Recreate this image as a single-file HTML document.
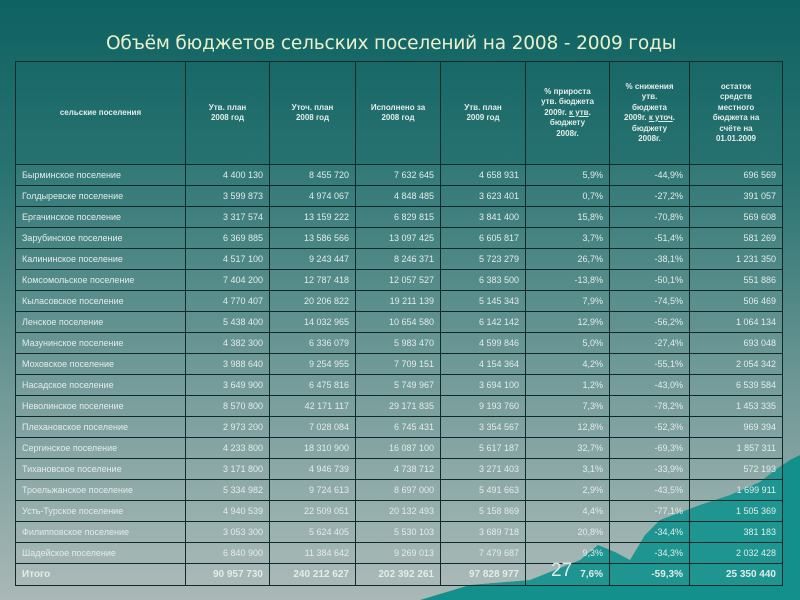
<!DOCTYPE html>
<html><head><meta charset="utf-8"><style>
html,body{margin:0;padding:0}
body{width:800px;height:600px;position:relative;overflow:hidden;background:linear-gradient(180deg,#0e6262 0%,#2a7472 30%,#6f9896 65%,#a9b8b6 100%);font-family:"Liberation Sans","DejaVu Sans",sans-serif}
.title{position:absolute;left:106px;top:33px;font-family:"DejaVu Sans","Liberation Sans",sans-serif;font-size:18.6px;color:#e8f0cc;white-space:nowrap;letter-spacing:-0.2px}
svg.wave{position:absolute;left:0;top:0}
table{position:absolute;left:15px;top:61px;width:767px;border-collapse:collapse;table-layout:fixed;z-index:2}
td{border:1.3px solid #102a2a;color:#e4ecea;font-size:9px;padding:0 6px;height:20px;white-space:nowrap;background:rgba(255,255,255,0.05)}
td.n{text-align:right}
tr.h td{height:102px;font-weight:bold;font-size:8px;text-align:center;white-space:normal;line-height:10.5px;background:none;padding:0 14px}
tr.t td{font-weight:bold;height:21px;font-size:10px}
.pg{position:absolute;left:551px;top:560px;font-size:19px;color:#e0e8e8;z-index:3}
</style></head><body>
<svg class="wave" width="800" height="600"><path d="M420 600 L470 585 L530 580 L580 560 L598 545 L615 552 L630 560 L645 535 L660 520 L700 505 L730 495 L760 482 L775 470 L790 460 L800 455 L800 600 Z" fill="#14908c"/></svg>
<div class="title">Объём бюджетов сельских поселений на 2008 - 2009 годы</div>
<table>
<colgroup><col style="width:170px"><col style="width:84px"><col style="width:86px"><col style="width:85px"><col style="width:85px"><col style="width:84px"><col style="width:80px"><col style="width:93px"></colgroup>
<tr class="h"><td>сельские поселения</td><td>Утв. план 2008 год</td><td>Уточ. план 2008 год</td><td>Исполнено за 2008 год</td><td>Утв. план 2009 год</td><td>% прироста утв. бюджета 2009г. <u>к утв</u>. бюджету 2008г.</td><td>% снижения утв. бюджета 2009г. <u>к уточ</u>. бюджету 2008г.</td><td>остаток средств местного бюджета на счёте на 01.01.2009</td></tr>
<tr><td>Бырминское поселение</td><td class="n">4 400 130</td><td class="n">8 455 720</td><td class="n">7 632 645</td><td class="n">4 658 931</td><td class="n">5,9%</td><td class="n">-44,9%</td><td class="n">696 569</td></tr>
<tr><td>Голдыревске поселение</td><td class="n">3 599 873</td><td class="n">4 974 067</td><td class="n">4 848 485</td><td class="n">3 623 401</td><td class="n">0,7%</td><td class="n">-27,2%</td><td class="n">391 057</td></tr>
<tr><td>Ергачинское поселение</td><td class="n">3 317 574</td><td class="n">13 159 222</td><td class="n">6 829 815</td><td class="n">3 841 400</td><td class="n">15,8%</td><td class="n">-70,8%</td><td class="n">569 608</td></tr>
<tr><td>Зарубинское поселение</td><td class="n">6 369 885</td><td class="n">13 586 566</td><td class="n">13 097 425</td><td class="n">6 605 817</td><td class="n">3,7%</td><td class="n">-51,4%</td><td class="n">581 269</td></tr>
<tr><td>Калининское поселение</td><td class="n">4 517 100</td><td class="n">9 243 447</td><td class="n">8 246 371</td><td class="n">5 723 279</td><td class="n">26,7%</td><td class="n">-38,1%</td><td class="n">1 231 350</td></tr>
<tr><td>Комсомольское поселение</td><td class="n">7 404 200</td><td class="n">12 787 418</td><td class="n">12 057 527</td><td class="n">6 383 500</td><td class="n">-13,8%</td><td class="n">-50,1%</td><td class="n">551 886</td></tr>
<tr><td>Кыласовское поселение</td><td class="n">4 770 407</td><td class="n">20 206 822</td><td class="n">19 211 139</td><td class="n">5 145 343</td><td class="n">7,9%</td><td class="n">-74,5%</td><td class="n">506 469</td></tr>
<tr><td>Ленское поселение</td><td class="n">5 438 400</td><td class="n">14 032 965</td><td class="n">10 654 580</td><td class="n">6 142 142</td><td class="n">12,9%</td><td class="n">-56,2%</td><td class="n">1 064 134</td></tr>
<tr><td>Мазунинское поселение</td><td class="n">4 382 300</td><td class="n">6 336 079</td><td class="n">5 983 470</td><td class="n">4 599 846</td><td class="n">5,0%</td><td class="n">-27,4%</td><td class="n">693 048</td></tr>
<tr><td>Моховское поселение</td><td class="n">3 988 640</td><td class="n">9 254 955</td><td class="n">7 709 151</td><td class="n">4 154 364</td><td class="n">4,2%</td><td class="n">-55,1%</td><td class="n">2 054 342</td></tr>
<tr><td>Насадское поселение</td><td class="n">3 649 900</td><td class="n">6 475 816</td><td class="n">5 749 967</td><td class="n">3 694 100</td><td class="n">1,2%</td><td class="n">-43,0%</td><td class="n">6 539 584</td></tr>
<tr><td>Неволинское поселение</td><td class="n">8 570 800</td><td class="n">42 171 117</td><td class="n">29 171 835</td><td class="n">9 193 760</td><td class="n">7,3%</td><td class="n">-78,2%</td><td class="n">1 453 335</td></tr>
<tr><td>Плехановское поселение</td><td class="n">2 973 200</td><td class="n">7 028 084</td><td class="n">6 745 431</td><td class="n">3 354 567</td><td class="n">12,8%</td><td class="n">-52,3%</td><td class="n">969 394</td></tr>
<tr><td>Сергинское поселение</td><td class="n">4 233 800</td><td class="n">18 310 900</td><td class="n">16 087 100</td><td class="n">5 617 187</td><td class="n">32,7%</td><td class="n">-69,3%</td><td class="n">1 857 311</td></tr>
<tr><td>Тихановское поселение</td><td class="n">3 171 800</td><td class="n">4 946 739</td><td class="n">4 738 712</td><td class="n">3 271 403</td><td class="n">3,1%</td><td class="n">-33,9%</td><td class="n">572 193</td></tr>
<tr><td>Троельжанское поселение</td><td class="n">5 334 982</td><td class="n">9 724 613</td><td class="n">8 697 000</td><td class="n">5 491 663</td><td class="n">2,9%</td><td class="n">-43,5%</td><td class="n">1 699 911</td></tr>
<tr><td>Усть-Турское поселение</td><td class="n">4 940 539</td><td class="n">22 509 051</td><td class="n">20 132 493</td><td class="n">5 158 869</td><td class="n">4,4%</td><td class="n">-77,1%</td><td class="n">1 505 369</td></tr>
<tr><td>Филипповское поселение</td><td class="n">3 053 300</td><td class="n">5 624 405</td><td class="n">5 530 103</td><td class="n">3 689 718</td><td class="n">20,8%</td><td class="n">-34,4%</td><td class="n">381 183</td></tr>
<tr><td>Шадейское поселение</td><td class="n">6 840 900</td><td class="n">11 384 642</td><td class="n">9 269 013</td><td class="n">7 479 687</td><td class="n">9,3%</td><td class="n">-34,3%</td><td class="n">2 032 428</td></tr>
<tr class="t"><td>Итого</td><td class="n">90 957 730</td><td class="n">240 212 627</td><td class="n">202 392 261</td><td class="n">97 828 977</td><td class="n">7,6%</td><td class="n">-59,3%</td><td class="n">25 350 440</td></tr>
</table>
<div class="pg">27</div>
</body></html>
